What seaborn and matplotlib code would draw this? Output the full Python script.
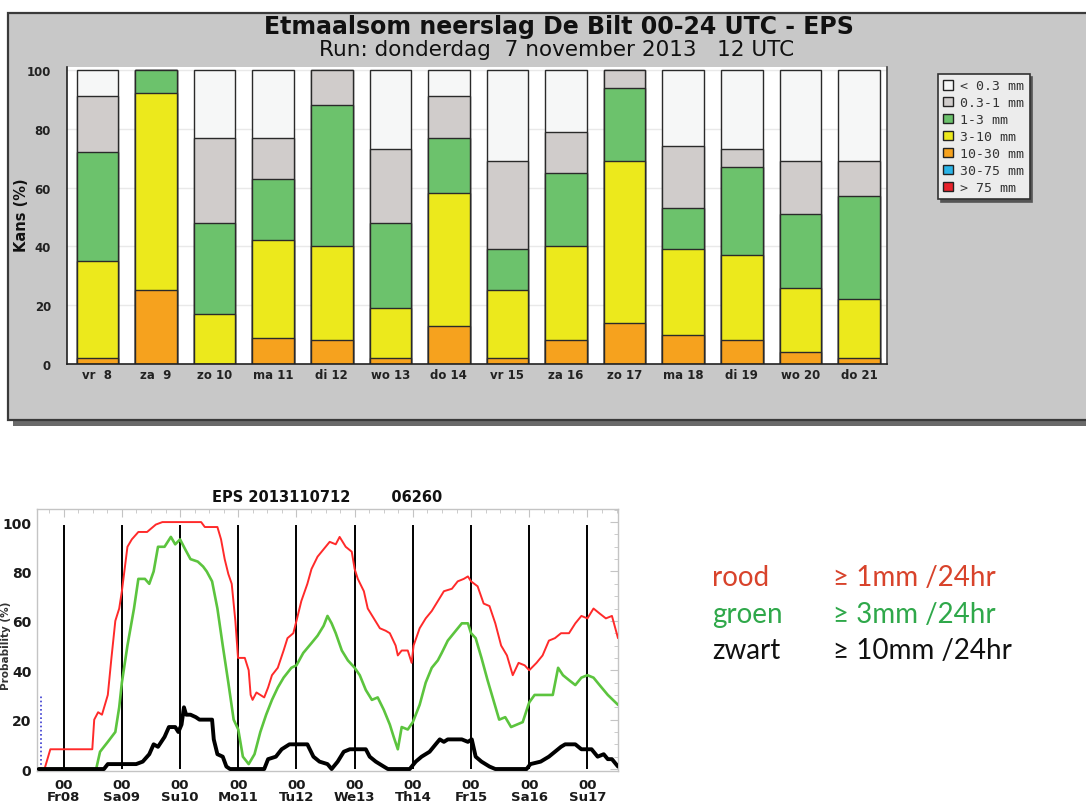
import numpy as np
import pandas as pd
import matplotlib
matplotlib.use("Agg")
import matplotlib.pyplot as plt
from matplotlib.patches import Rectangle, Patch
from matplotlib.ticker import MultipleLocator, FixedLocator
import seaborn as sns

# ---------------- top chart data (probability per class, %) ----------------
days = ["vr  8", "za  9", "zo 10", "ma 11", "di 12", "wo 13", "do 14",
        "vr 15", "za 16", "zo 17", "ma 18", "di 19", "wo 20", "do 21"]
p_gt75  = [0, 0, 0, 0, 0, 0, 0, 0, 0, 0, 0, 0, 0, 0]
p_30_75 = [0, 0, 0, 0, 0, 0, 0, 0, 0, 0, 0, 0, 0, 0]
p_10_30 = [2, 25, 0, 9, 8, 2, 13, 2, 8, 14, 10, 8, 4, 2]
p_3_10  = [33, 67, 17, 33, 32, 17, 45, 23, 32, 55, 29, 29, 22, 20]
p_1_3   = [37, 8, 31, 21, 48, 29, 19, 14, 25, 25, 14, 30, 25, 35]
p_03_1  = [19, 0, 29, 14, 12, 25, 14, 30, 14, 6, 21, 6, 18, 12]
p_lt03  = [9, 0, 23, 23, 0, 27, 9, 31, 21, 0, 26, 27, 31, 31]

class_labels = ["< 0.3 mm", "0.3-1 mm", "1-3 mm", "3-10 mm", "10-30 mm", "30-75 mm", "> 75 mm"]
class_colors = ["#f6f7f7", "#d0cccb", "#6cc26c", "#ece91c", "#f6a21e", "#2ab4e8", "#e8212a"]

# ---------------- bottom chart data (hours from Fr08 00 UTC, %) ----------------
red_h = [-10.3, -7.9, -5.5, 11.8, 12.6, 14.2, 15.8, 18.2, 19.7, 21.3, 22.9, 24, 26.3, 28.1, 30.8,
         34.4, 38, 40.7, 56.7, 58.2, 63.4, 64.9, 66.4, 67.9, 69.3, 70.8, 71.9, 74.7, 76.3, 77.1,
         77.9, 79.5, 81.1, 82.7, 84.3, 85.9, 88.3, 90.7, 92.3, 94.7, 96, 98, 100.5, 102.2, 104.7,
         107.2, 109.7, 112.2, 113.8, 116.3, 118.8, 120, 121.3, 123.8, 125.4, 127.9, 130.4, 132.8,
         134.5, 136.9, 137.8, 139.4, 141.9, 143.5, 144.3, 146.8, 149.3, 151.8, 154.3, 156.8, 160.1,
         162.5, 165, 166.7, 168, 170.7, 173.2, 175.6, 178, 180.4, 182.8, 185.2, 187.6, 190.1, 192,
         195, 197.5, 200.1, 202.6, 205.1, 208.4, 211, 213.5, 216, 218.5, 221, 223.6, 226.1, 228.6]
red_v = [0, 0, 8, 8, 20, 23, 22, 30, 45, 60, 65, 72, 90, 93, 96,
         96, 99, 100, 100, 98, 98, 93, 85, 79, 75, 60, 45, 45, 40, 30,
         28, 31, 30, 29, 33, 38, 41, 48, 53, 55, 60, 68, 75, 81, 86,
         89, 92, 91, 94, 90, 88, 81, 77, 72, 65, 61, 57, 56,
         55, 50, 46, 48, 48, 43, 50, 57, 61, 64, 68, 72, 73,
         76, 77, 78, 76, 74, 67, 66, 59, 50, 46, 38, 43, 42, 40,
         43, 46, 52, 53, 55, 55, 59, 62, 61, 65, 63, 61, 62, 53]

green_h = [-10.3, 13.4, 15, 18.2, 21.3, 22.9, 24, 26.3, 29, 30.8, 33.5, 35.3, 37.1, 38.9, 41.6,
           44.2, 46, 48, 50.1, 52.3, 55.3, 57.5, 59, 61.2, 63.4, 65.6, 67.9, 70.1, 72, 73.9,
           76.3, 78.7, 81.1, 83.5, 85.9, 88.3, 90.7, 93.9, 96, 98.8, 102.2, 104.7, 107.2, 108.8,
           110.5, 112.2, 114.7, 117.2, 120, 122.1, 124.6, 127.1, 129.5, 132, 134.5, 136.1, 137.8,
           139.4, 141.9, 144, 146.8, 149.3, 151.8, 154.3, 155.9, 158.4, 161.7, 164.2, 166.7, 168,
           169.9, 172.3, 174.8, 177.2, 179.6, 182.1, 184.5, 186.9, 189.3, 192, 194.2, 197.5, 201.7,
           203.9, 205.9, 208.4, 211, 213.5, 216, 218.5, 221, 224.4, 228.6]
green_v = [0, 0, 7, 11, 15, 25, 35, 50, 65, 77, 77, 75, 80, 90, 90,
           94, 91, 93, 89, 85, 84, 82, 80, 76, 65, 50, 35, 20, 16, 5,
           2, 6, 15, 22, 28, 33, 37, 41, 42, 47, 51, 54, 58, 62,
           59, 55, 48, 44, 41, 38, 32, 28, 29, 24, 18, 13, 8,
           17, 16, 19, 26, 35, 41, 44, 47, 52, 56, 59, 59, 55,
           53, 45, 36, 28, 20, 21, 17, 18, 19, 27, 30, 30, 30,
           41, 38, 36, 34, 37, 38, 37, 34, 30, 26]

black_h = [-10.3, 16.6, 18.2, 29.9, 32.6, 35.3, 37.1, 38.9, 41.6, 43.4, 46, 47.3, 48.6, 49.6, 50.5,
           52.3, 54.5, 56, 61.2, 61.9, 63.4, 65.6, 67.1, 68.6, 82.7, 84.3, 87.5, 89.9, 93.1, 100.5,
           103, 105.5, 108.8, 110.5, 113, 115.5, 118, 124.6, 126.2, 128.7, 132, 133.7, 142.7, 145.2,
           147.6, 150.9, 153.4, 155.1, 156.8, 158.4, 164.2, 166.7, 168.3, 169.9, 172.3, 175.6, 178,
           190.9, 192.5, 196.7, 200.1, 202.6, 205.1, 206.8, 211, 213.5, 217.7, 220.2, 222.7, 224.4,
           226.1, 228.6]
black_v = [0, 0, 2, 2, 3, 6, 10, 9, 13, 17, 17, 15, 18, 25, 22,
           22, 21, 20, 20, 12, 6, 5, 1, 0, 0, 4, 5, 8, 10, 10,
           5, 3, 2, 0, 3, 7, 8, 8, 5, 3, 1, 0, 0, 3,
           5, 7, 10, 12, 11, 12, 12, 11, 12, 5, 3, 1, 0,
           0, 2, 3, 5, 7, 9, 10, 10, 8, 8, 5, 6, 4,
           4, 1]

day_hours = [0, 24, 48, 72, 96, 120, 144, 168, 192, 216]
day_labels = ["00\nFr08", "00\nSa09", "00\nSu10", "00\nMo11", "00\nTu12",
              "00\nWe13", "00\nTh14", "00\nFr15", "00\nSa16", "00\nSu17"]

# ---------------- figure ----------------
sns.set_style("white")
plt.rcParams['font.family'] = ['DejaVu Sans']
W, H = 1086, 804
fig = plt.figure(figsize=(W / 100, H / 100), dpi=100)
fig.patch.set_facecolor("white")

def fx(px):
    return px / W

def fy(py):
    return 1 - py / H

# grey panel of the top graphic with shadow
fig.add_artist(Rectangle((fx(13), fy(427)), fx(1100), fy(20) - fy(427), transform=fig.transFigure,
                         facecolor="#6a6a6a", edgecolor="none", zorder=-3))
fig.add_artist(Rectangle((fx(8), fy(421)), fx(1100), fy(14) - fy(421), transform=fig.transFigure,
                         facecolor="#c8c8c8", edgecolor="#3a3a3a", linewidth=1.6, zorder=-2))

fig.text(fx(559), fy(27), "Etmaalsom neerslag De Bilt 00-24 UTC - EPS", ha="center", va="center",
         fontsize=17, fontweight="bold", color="#111111")
fig.text(fx(557), fy(50), "Run: donderdag  7 november 2013   12 UTC", ha="center", va="center",
         fontsize=15.5, color="#111111")

# ---- stacked bar chart
ax1 = fig.add_axes([fx(67), fy(365), fx(887) - fx(67), fy(68) - fy(365)])
ax1.set_facecolor("white")
classes = [p_lt03, p_03_1, p_1_3, p_3_10, p_10_30, p_30_75, p_gt75]
arr = np.array(classes[::-1])           # bottom-up order
cum = np.cumsum(arr, axis=0)[::-1]      # cumulative, top class first
for k, (vals, col) in enumerate(zip(cum, class_colors)):
    if np.all(np.array(classes[k]) == 0) and k >= 5:
        continue
    df = pd.DataFrame({"dag": days, "kans": vals})
    sns.barplot(data=df, x="dag", y="kans", order=days, color=col, saturation=1,
                width=0.71, edgecolor="#2a2a2a", linewidth=1.0, ax=ax1, zorder=2)
ax1.set_xlim(-0.52, 13.48)
ax1.set_ylim(0, 101)
ax1.yaxis.set_major_locator(MultipleLocator(20))
ax1.yaxis.set_minor_locator(MultipleLocator(10))
ax1.xaxis.set_minor_locator(FixedLocator(np.arange(0.5, 14, 1.0)))
ax1.grid(axis="y", color="#e9e9e9", linewidth=1.0, zorder=0)
ax1.set_axisbelow(True)
ax1.set_xlabel("")
ax1.set_ylabel("")
ax1.spines["top"].set_visible(False)
ax1.spines["left"].set_color("#222222")
ax1.spines["bottom"].set_color("#222222")
ax1.spines["right"].set_color("#444444")
for s in ["left", "bottom", "right"]:
    ax1.spines[s].set_linewidth(1.2)
ax1.tick_params(axis="y", which="major", direction="inout", length=7, width=1, color="#222222",
                labelsize=8.5, pad=8, labelcolor="#222222")
ax1.tick_params(axis="y", which="minor", direction="in", length=4, width=1, color="#222222")
ax1.tick_params(axis="x", which="major", length=0, pad=3, labelsize=8.5, labelcolor="#222222")
ax1.tick_params(axis="x", which="minor", direction="in", length=4, width=1, color="#222222")
for lab in ax1.get_yticklabels() + ax1.get_xticklabels():
    lab.set_fontweight("bold")
fig.text(fx(22), fy(215), "Kans (%)", rotation=90, ha="center", va="center",
         fontsize=10.5, fontweight="bold", color="#111111")

handles = [Patch(facecolor=c, edgecolor="#222222", linewidth=1.0) for c in class_colors]
leg = fig.legend(handles, class_labels, loc="upper left", bbox_to_anchor=(fx(938), fy(75)),
                 prop={"family": "DejaVu Sans Mono", "size": 9.5}, frameon=True, fancybox=False,
                 shadow={"color": "#555555", "alpha": 1}, framealpha=1, facecolor="#ececec",
                 edgecolor="#333333", handlelength=0.75, handleheight=0.75, handletextpad=0.55,
                 labelspacing=0.3, borderpad=0.4, borderaxespad=0)
leg.get_frame().set_linewidth(1.2)
for t in leg.get_texts():
    t.set_color("#333333")

# ---- bottom line chart
ax2 = fig.add_axes([fx(37), fy(772), fx(618) - fx(37), fy(510) - fy(772)])
ax2.set_facecolor("white")
ax2.vlines(day_hours, 0, 99, color="black", linewidth=1.4, zorder=2)
ax2.vlines([-9.5], 0, 30, color="#3a3ad0", linewidth=1.2, linestyles=(0, (1, 1.5)), zorder=2)
sns.lineplot(x=red_h, y=red_v, color="#ff2a2a", linewidth=1.4, estimator=None, ax=ax2, zorder=3)
sns.lineplot(x=green_h, y=green_v, color="#5cc43e", linewidth=1.9, estimator=None, ax=ax2, zorder=4)
sns.lineplot(x=black_h, y=black_v, color="black", linewidth=2.8, estimator=None, ax=ax2, zorder=5)
ax2.set_xlim(-11, 228.6)
ax2.set_ylim(-0.8, 105.3)
ax2.set_xticks(day_hours)
ax2.set_xticklabels(day_labels)
ax2.xaxis.set_minor_locator(MultipleLocator(6))
ax2.yaxis.set_major_locator(MultipleLocator(20))
ax2.yaxis.set_minor_locator(MultipleLocator(5))
for s in ax2.spines.values():
    s.set_color("#c4c4c4")
    s.set_linewidth(1.0)
ax2.tick_params(which="both", direction="in", color="#c4c4c4", top=True, right=True)
ax2.tick_params(which="major", length=6)
ax2.tick_params(which="minor", length=3)
ax2.tick_params(axis="y", labelsize=10, pad=4)
ax2.tick_params(axis="x", labelsize=9.5, pad=5)
for lab in ax2.get_yticklabels() + ax2.get_xticklabels():
    lab.set_fontweight("bold")
    lab.set_color("#1a1a1a")
for lab in ax2.get_xticklabels():
    lab.set_linespacing(0.9)
ax2.set_xlabel("")
ax2.set_ylabel("")
ax2.set_title("EPS 2013110712        06260", fontsize=10.5, fontweight="bold", pad=6,
              color="#111111")
fig.text(fx(6), fy(646), "Probability (%)", rotation=90, ha="center", va="center",
         fontsize=7.5, fontweight="bold", color="#333333")

# ---- legend text on the right
fam = ["Lato", "DejaVu Sans"]
rows = [("rood", "\u2265 1mm /24hr", "#d8432b", 578),
        ("groen", "\u2265 3mm /24hr", "#2fa84a", 615),
        ("zwart", "\u2265 10mm /24hr", "#111111", 651)]
for name, desc, col, yy in rows:
    fig.text(fx(712), fy(yy), name, color=col, fontsize=20, family=fam, va="center", ha="left")
    fig.text(fx(833), fy(yy), desc, color=col, fontsize=20, family=fam, va="center", ha="left")

fig.savefig("out.png", dpi=100)
